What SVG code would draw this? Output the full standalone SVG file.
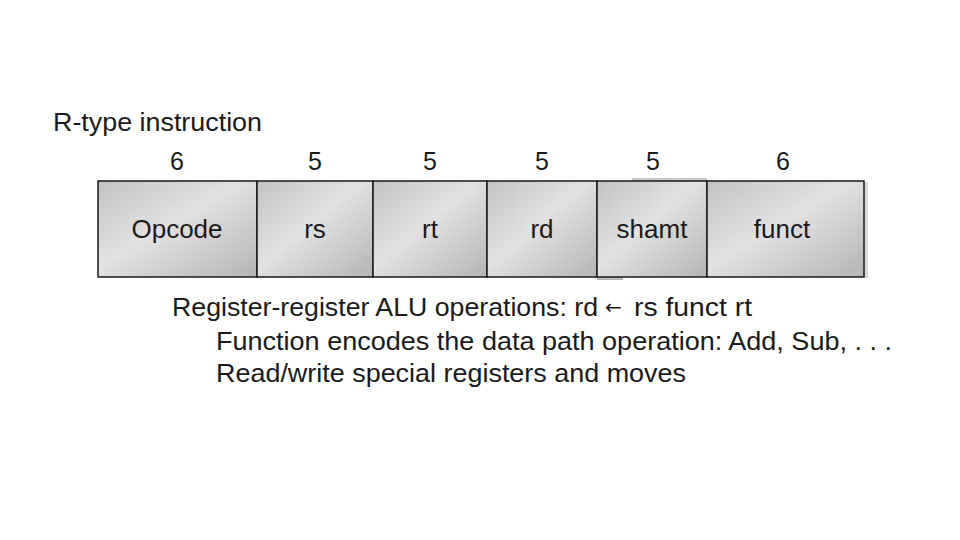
<svg xmlns="http://www.w3.org/2000/svg" width="960" height="540" viewBox="0 0 960 540">
<defs>
<linearGradient id="metal" x1="0" y1="0" x2="1" y2="1">
<stop offset="0" stop-color="#c2c2c4"/>
<stop offset="0.45" stop-color="#e2e2e3"/>
<stop offset="1" stop-color="#b4b4b6"/>
</linearGradient>
<style>
text{font-family:"Liberation Sans",Arial,sans-serif;fill:#1a1a1a}
.t{font-size:26px}
.n{font-size:25px;text-anchor:middle}
.f{font-size:26px;text-anchor:middle}
.b{font-size:26px}
.ar{font-family:"DejaVu Sans",sans-serif;font-size:20px}
.box{fill:url(#metal);stroke:#1a1a1a;stroke-width:1.5}
</style>
</defs>
<rect width="960" height="540" fill="#ffffff"/>
<text class="t" x="53" y="131" textLength="209" lengthAdjust="spacingAndGlyphs">R-type instruction</text>
<g id="widths">
<text class="n" x="177" y="170">6</text>
<text class="n" x="315" y="170">5</text>
<text class="n" x="430" y="170">5</text>
<text class="n" x="542" y="170">5</text>
<text class="n" x="653" y="170">5</text>
<text class="n" x="783" y="170">6</text>
</g>
<rect x="632" y="178" width="75" height="3" fill="#c8c8c8"/>
<rect x="597" y="277" width="26" height="3" fill="#b8b8b8"/>
<rect x="864" y="182" width="4" height="96" fill="#d8d8d8"/>
<g id="opcode"><rect class="box" x="98" y="181" width="159" height="96"/><text class="f" x="177" y="238">Opcode</text></g>
<g id="rs"><rect class="box" x="257" y="181" width="116" height="96"/><text class="f" x="315" y="238">rs</text></g>
<g id="rt"><rect class="box" x="373" y="181" width="114" height="96"/><text class="f" x="430" y="238">rt</text></g>
<g id="rd"><rect class="box" x="487" y="181" width="110" height="96"/><text class="f" x="542" y="238">rd</text></g>
<g id="shamt"><rect class="box" x="597" y="181" width="110" height="96"/><text class="f" x="652" y="238">shamt</text></g>
<g id="funct"><rect class="box" x="707" y="181" width="157" height="96"/><text class="f" x="782" y="238">funct</text></g>
<g id="desc">
<text class="b" x="172" y="316"><tspan textLength="426" lengthAdjust="spacingAndGlyphs">Register-register ALU operations: rd</tspan><tspan class="ar" x="605" y="314">←</tspan><tspan x="634" y="316" textLength="118" lengthAdjust="spacingAndGlyphs">rs funct rt</tspan></text>
<text class="b" x="216" y="350" textLength="676" lengthAdjust="spacingAndGlyphs">Function encodes the data path operation: Add, Sub, . . .</text>
<text class="b" x="216" y="382" textLength="470" lengthAdjust="spacingAndGlyphs">Read/write special registers and moves</text>
</g>
</svg>
